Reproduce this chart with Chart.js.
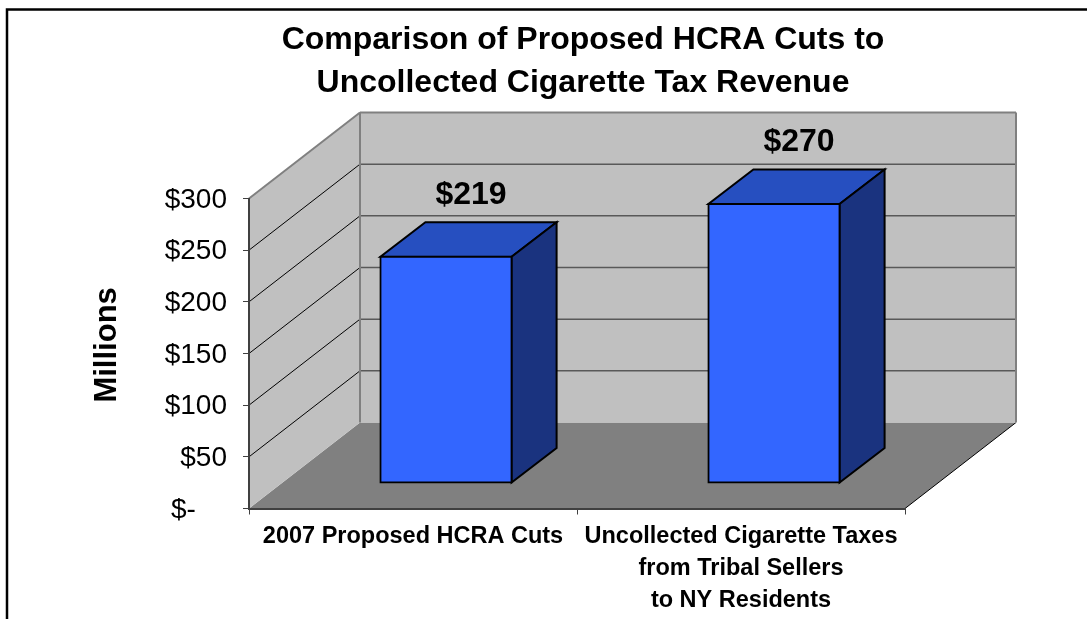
<!DOCTYPE html>
<html>
<head>
<meta charset="utf-8">
<title>HCRA Cuts vs Cigarette Tax Revenue</title>
<script src="https://cdn.jsdelivr.net/npm/chart.js@4/dist/chart.umd.min.js"></script>
<style>
    html, body { margin: 0; padding: 0; background: #fff; }
    canvas { display: block; }
</style>
</head>
<body>
<canvas id="chart" width="1087" height="619"></canvas>
<script>
const categories = [
    "2007 Proposed HCRA Cuts",
    ["Uncollected Cigarette Taxes", "from Tribal Sellers", "to NY Residents"]
];
const values = [219, 270];
const titleLines = ["Comparison of Proposed HCRA Cuts to", "Uncollected Cigarette Tax Revenue"];
const axisTitle = "\u00a0\u00a0Millions";
const FONT = "'Liberation Sans', Arial, sans-serif";

// Fake 3D depth: how far the back wall and the bars sit from the front plane
const WALL_DEPTH = { x: 111, y: 86 };
const BAR_OFFSET = { x: 33, y: 25.5 };
const BAR_DEPTH = { x: 45, y: 34.5 };

function polygon(ctx, points, fill, stroke, lineWidth) {
    ctx.beginPath();
    points.forEach((p, i) => (i ? ctx.lineTo(p[0], p[1]) : ctx.moveTo(p[0], p[1])));
    ctx.closePath();
    ctx.fillStyle = fill;
    ctx.fill();
    if (stroke) {
        ctx.strokeStyle = stroke;
        ctx.lineWidth = lineWidth;
        ctx.lineJoin = "miter";
        ctx.stroke();
    }
}

function line(ctx, x1, y1, x2, y2, color, width) {
    ctx.beginPath();
    ctx.moveTo(x1, y1);
    ctx.lineTo(x2, y2);
    ctx.strokeStyle = color;
    ctx.lineWidth = width;
    ctx.stroke();
}

const box3d = {
    id: "box3d",
    afterLayout(chart) {
        // nudge the title off the plot centre
        chart.titleBlock.left += 6;
        chart.titleBlock.right += 6;
    },
    beforeDraw(chart) {
        const { ctx, chartArea, scales } = chart;
        const { left, right, top, bottom } = chartArea;
        const dx = WALL_DEPTH.x, dy = WALL_DEPTH.y;

        ctx.save();
        // outer frame runs off the right and bottom of the page
        ctx.strokeStyle = "#000";
        ctx.lineWidth = 2.5;
        ctx.strokeRect(7, 9.5, 1200, 800);

        // floor
        polygon(ctx, [[left, bottom], [right, bottom], [right + dx, bottom - dy], [left + dx, bottom - dy]], "#808080");
        line(ctx, right, bottom, right + dx, bottom - dy, "#000", 1);

        // side wall and back wall
        polygon(ctx, [[left, bottom], [left + dx, bottom - dy], [left + dx, top - dy], [left, top]], "#c0c0c0");
        ctx.fillStyle = "#c0c0c0";
        ctx.fillRect(left + dx, top - dy, right - left, bottom - top);

        // gridlines wrap around both walls
        scales.y.ticks.forEach((tick) => {
            const y = scales.y.getPixelForValue(tick.value);
            if (tick.value === 0 || tick.value === scales.y.max) return;
            line(ctx, left, y, left + dx, y - dy, "#000", 1);
            line(ctx, left + dx, y - dy, right + dx, y - dy, "#595959", 1.5);
        });

        // wall outlines
        line(ctx, left, top, left + dx, top - dy, "#808080", 2);
        line(ctx, left + dx, top - dy, right + dx, top - dy, "#808080", 2);
        line(ctx, left + dx, top - dy, left + dx, bottom - dy, "#808080", 2);
        line(ctx, right + dx, top - dy, right + dx, bottom - dy, "#808080", 2);
        ctx.restore();
    },
    beforeDatasetDraw(chart, args) {
        const ctx = chart.ctx;
        ctx.save();
        ctx.translate(BAR_OFFSET.x, -BAR_OFFSET.y);
        // top and side faces go under the front face the library draws
        args.meta.data.forEach((bar) => {
            const half = bar.width / 2;
            const l = bar.x - half, r = bar.x + half, t = bar.y, b = bar.base;
            const dx = BAR_DEPTH.x, dy = BAR_DEPTH.y;
            polygon(ctx, [[l, t], [r, t], [r + dx, t - dy], [l + dx, t - dy]], "#264fc0", "#000", 2);
            polygon(ctx, [[r, t], [r + dx, t - dy], [r + dx, b - dy], [r, b]], "#1a337f", "#000", 2);
        });
    },
    afterDatasetDraw(chart) {
        chart.ctx.restore();
    },
    afterDatasetsDraw(chart) {
        const ctx = chart.ctx;
        ctx.save();
        ctx.font = "bold 32px " + FONT;
        ctx.fillStyle = "#000";
        ctx.textAlign = "center";
        ctx.textBaseline = "middle";
        chart.getDatasetMeta(0).data.forEach((bar, i) => {
            ctx.fillText("$" + values[i], bar.x + BAR_OFFSET.x + 25, bar.y - BAR_OFFSET.y - 62);
        });
        ctx.restore();
    }
};

new Chart(document.getElementById("chart"), {
    type: "bar",
    data: {
        labels: categories,
        datasets: [{
            data: values,
            backgroundColor: "#3366ff",
            borderColor: "#000",
            borderWidth: 2,
            borderSkipped: false,
            inflateAmount: 1,
            barPercentage: 0.4,
            categoryPercentage: 1,
            clip: false
        }]
    },
    plugins: [box3d],
    options: {
        responsive: false,
        animation: false,
        events: [],
        layout: { padding: { left: 0, right: 182, top: 0, bottom: 0 } },
        plugins: {
            legend: { display: false },
            tooltip: { enabled: false },
            title: {
                display: true,
                fullSize: false,
                text: titleLines,
                color: "#000",
                font: { family: FONT, size: 32, weight: "bold", lineHeight: 43 / 32 },
                padding: { top: 18.5, bottom: 94 }
            }
        },
        scales: {
            x: {
                afterFit(scale) { scale.height = 110.5; },
                grid: { drawOnChartArea: false, tickLength: 6, color: "#404040", offset: true },
                border: { color: "#404040", width: 2 },
                ticks: {
                    color: "#000",
                    padding: 6,
                    maxRotation: 0,
                    autoSkip: false,
                    font: { family: FONT, size: 23.5, weight: "bold", lineHeight: 32 / 23.5 }
                }
            },
            y: {
                min: 0,
                max: 300,
                afterFit(scale) { scale.width = 249; },
                grid: { drawOnChartArea: false, tickLength: 6, color: "#404040" },
                border: { color: "#404040", width: 2 },
                title: {
                    display: true,
                    text: axisTitle,
                    color: "#000",
                    font: { family: FONT, size: 31, weight: "bold" },
                    padding: { top: 89, bottom: 0 }
                },
                ticks: {
                    stepSize: 50,
                    color: "#000",
                    padding: 16,
                    labelOffset: 1.5,
                    font: { family: FONT, size: 28 },
                    callback: (v) => (v === 0 ? "$-\u00a0\u00a0\u00a0\u00a0" : "$" + v)
                }
            }
        }
    }
});
</script>
</body>
</html>
